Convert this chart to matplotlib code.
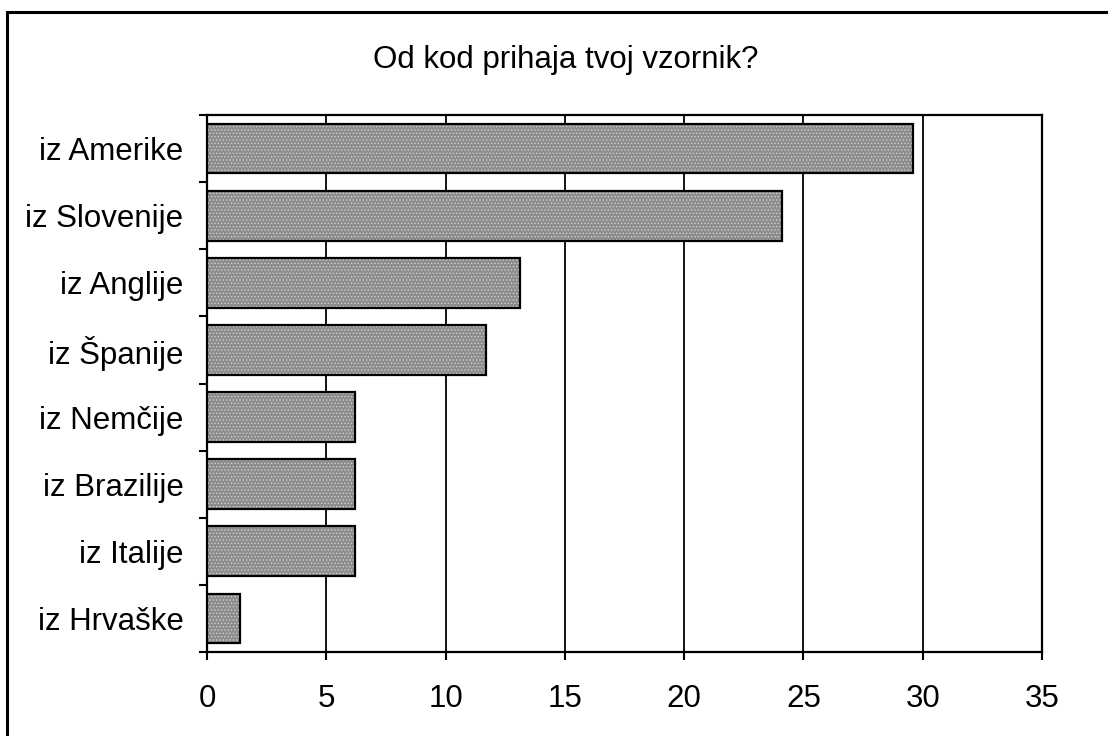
import numpy as np
import matplotlib.pyplot as plt
from matplotlib.patches import Rectangle

plt.rcParams['font.family'] = ['Liberation Sans', 'DejaVu Sans']
plt.rcParams['hatch.linewidth'] = 0.6

# podatki
drzave = ['iz Amerike', 'iz Slovenije', 'iz Anglije', 'iz Španije',
          'iz Nemčije', 'iz Brazilije', 'iz Italije', 'iz Hrvaške']
odstotki = [29.6, 24.1, 13.1, 11.7, 6.2, 6.2, 6.2, 1.4]
x_ticks = [0, 5, 10, 15, 20, 25, 30, 35]

fig = plt.figure(figsize=(11.08, 7.36), dpi=100)
# okvir okoli grafa
fig.patches.append(Rectangle((7/1108, -0.5), 2.0, 1.5 - 12/736,
                             transform=fig.transFigure, fill=False,
                             edgecolor='black', linewidth=2.2))

ax = fig.add_axes([207/1108, 1 - 652/736, (1042 - 207)/1108, (652 - 115)/736])
pos = np.arange(len(drzave))
# siva podlaga z belimi pikicami, nato obroba
ax.barh(pos, odstotki, height=0.74, color='#8c8c8c', linewidth=0, zorder=3)
ax.barh(pos, odstotki, height=0.74, facecolor='none', edgecolor='#d0d0d0',
        hatch='.....', linewidth=0, zorder=4)
ax.barh(pos, odstotki, height=0.74, facecolor='none', edgecolor='black',
        linewidth=1.6, zorder=5)

ax.set_xlim(0, 35)
ax.set_ylim(len(drzave) - 0.5, -0.5)
ax.set_xticks(x_ticks)
ax.set_xticklabels([str(v) for v in x_ticks], fontsize=22.5)
ax.grid(axis='x', color='black', linewidth=1.3, zorder=1)

# meje kategorij kot glavne kljukice, imena kot pomozne
ax.set_yticks(np.arange(len(drzave) + 1) - 0.5)
ax.set_yticklabels([])
ax.set_yticks(pos, minor=True)
ax.set_yticklabels(drzave, minor=True, fontsize=22.5)
ax.tick_params(axis='y', which='minor', length=0, pad=17)
ax.tick_params(axis='y', which='major', length=6, width=1.5)
ax.tick_params(axis='x', length=6, width=1.5, pad=17)

for s in ax.spines.values():
    s.set_linewidth(1.6)

fig.text(566/1108, 1 - 60/736, 'Od kod prihaja tvoj vzornik?', ha='center',
         va='center', fontsize=22.5)

fig.savefig('out.png', dpi=100)
